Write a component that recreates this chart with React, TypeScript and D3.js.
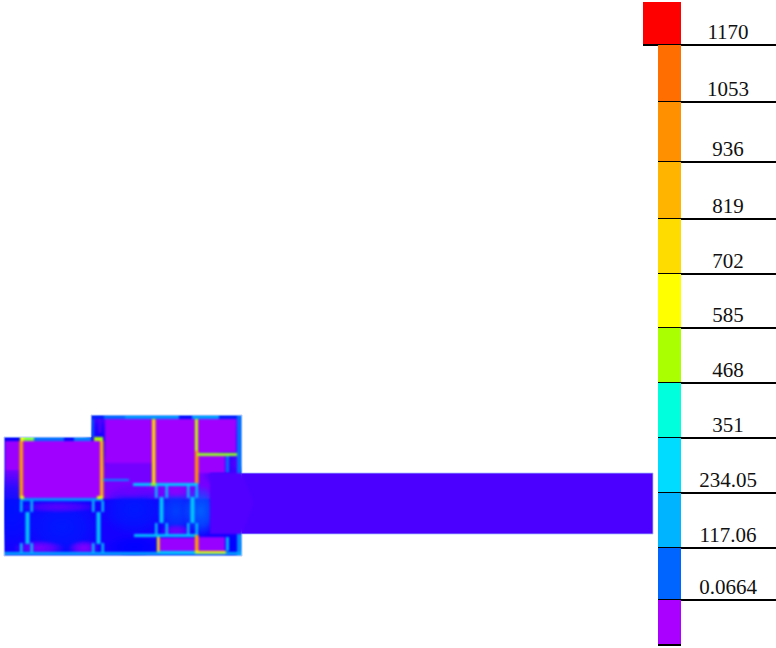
import React from "react";
import * as d3 from "d3";

// Legend
const legendLabels = ["1170", "1053", "936", "819", "702", "585", "468", "351", "234.05", "117.06", "0.0664", ""];
const legendColors = ["#ff0000", "#ff6e00", "#ff9100", "#ffb400", "#ffdc00", "#ffff00", "#aaff00", "#00ffdc", "#00dcff", "#00b4ff", "#0064ff", "#aa00ff"];
const legendEdges = [2, 45, 102, 162, 219, 274, 328, 383, 438, 493, 548, 600, 645];

// Field colour map
const fieldStops = [0, 50, 110, 170, 290, 400, 470, 585, 750, 936];
const fieldColors = ["#a000ff", "#4b00ff", "#0000ff", "#0060ff", "#00c8ff", "#00ffee", "#aaff00", "#ffff00", "#ffc000", "#ff8000"];

type Cell = [number, number, number, number, number];
type Blob = [number, number, number, number, number];

// Model coordinates: x 0..649 along the length, y 0..141 down; [x0, y0, x1, y1, stress]
const slabs: Cell[] = [
  [0, 22, 87, 141, 25],
  [87, 0, 238, 141, 25],
  [0, 84, 238, 141, 95],
];
const tail: Cell[] = [[238, 58, 649, 119, 50]];
// Soft stress concentrations: [cx, cy, rx, ry, stress]
const blobs: Blob[] = [
  [8, 95, 30, 40, 120],
  [58, 112, 40, 30, 125],
  [130, 95, 34, 26, 125],
  [172, 96, 20, 24, 150],
  [197, 96, 18, 26, 170],
  [95, 25, 16, 30, 105],
  [222, 60, 24, 14, 70],
  [225, 30, 14, 30, 85],
  [226, 130, 14, 14, 110],
  [130, 132, 28, 12, 110],
];
const purpleCorners: Blob[] = [
  [35, 133, 26, 8, 20],
  [80, 133, 16, 8, 15],
  [55, 92, 40, 6, 40],
  [128, 76, 26, 8, 30],
  [172, 76, 14, 7, 10],
  [172, 116, 16, 7, 25],
];
const perimeter: Cell[] = [
  [0, 22, 16, 26, 110],
  [16, 22, 60, 26, 190],
  [60, 22, 70, 26, 115],
  [70, 22, 87, 26, 210],
  [87, 0, 100, 4, 130],
  [100, 0, 121, 4, 180],
  [121, 0, 175, 4, 230],
  [175, 0, 188, 4, 120],
  [188, 0, 215, 4, 240],
  [215, 0, 233, 4, 130],
  [233, 0, 238, 58, 190],
  [233, 58, 238, 141, 220],
  [87, 4, 90, 22, 160],
  [0, 137, 238, 140, 250],
  [0, 26, 1, 136, 110],
];
const rooms: Cell[] = [
  [1, 26, 16, 55, 3],
  [19, 26, 96, 83, 0],
  [101, 4, 148, 48, 4],
  [152, 4, 191, 68, 0],
  [194, 4, 232, 37, 0],
  [194, 41, 221, 58, 3],
  [155, 123, 191, 136, 5],
  [194, 122, 221, 136, 5],
];
const walls: Cell[] = [
  [15.5, 26, 19, 83, 850],
  [96, 26, 99.5, 83, 800],
  [16, 22, 20, 26, 560],
  [20, 22, 30, 26, 450],
  [90, 22, 99, 26, 470],
  [16, 83, 99, 86, 230],
  [16, 81, 20, 84, 550],
  [93, 81, 99, 84, 550],
  [148, 4, 151.5, 69, 690],
  [191, 4, 194, 36, 500],
  [191, 36, 194.5, 69, 880],
  [193, 38, 233, 41, 460],
  [99, 64, 125, 66, 220],
  [129, 68, 194, 71, 290],
  [147, 68, 152, 71, 460],
  [21.5, 97, 25.5, 129, 290],
  [92.5, 97, 96.5, 129, 290],
  [155.5, 82, 159.5, 108, 290],
  [186.5, 82, 190.5, 108, 290],
  [130, 119, 194, 122, 280],
  [153, 122, 155.5, 137, 640],
  [155, 136, 191, 138, 310],
  [191, 120, 194.5, 137, 840],
  [191, 136, 222, 138.5, 570],
  [222, 122, 225, 136, 270],
  [222, 41, 225, 58, 190],
  [95, 4, 97, 18, 40],
];
// Column collars: narrow strips on either side of each column
const collars: Cell[] = [
  [16, 86, 18.5, 97, 280], [26.5, 86, 29, 97, 280],
  [88, 86, 90.5, 97, 280], [97.5, 86, 100, 97, 280],
  [16, 128, 18.5, 137, 280], [26.5, 128, 29, 137, 280],
  [88, 128, 90.5, 137, 280], [97.5, 128, 100, 137, 280],
  [151, 71, 153.5, 83, 280], [161.5, 71, 164, 83, 280],
  [183, 71, 185.5, 83, 280], [191.5, 71, 194, 83, 280],
  [151, 108, 153.5, 120, 280], [161.5, 108, 164, 120, 280],
  [183, 108, 185.5, 120, 280], [191.5, 108, 194, 120, 280],
];

const W = 776;
const H = 648;
const xModel = d3.scaleLinear().domain([0, 649]).range([4, 653]);
const yModel = d3.scaleLinear().domain([0, 141]).range([415, 556]);
const field = d3.scaleLinear<string>().domain(fieldStops).range(fieldColors).interpolate(d3.interpolateRgb);

function CellRect({ c }: { c: Cell }) {
  const [x0, y0, x1, y1, v] = c;
  return <rect x={xModel(x0)} y={yModel(y0)} width={xModel(x1) - xModel(x0)} height={yModel(y1) - yModel(y0)} fill={field(v)} />;
}

function gradientId(prefix: string, i: number) {
  return `${prefix}-${i}`;
}

function BlobDefs({ list, prefix }: { list: Blob[]; prefix: string }) {
  return (
    <>
      {list.map((b, i) => (
        <radialGradient key={i} id={gradientId(prefix, i)}>
          <stop offset="0%" stopColor={field(b[4])} stopOpacity={1} />
          <stop offset="55%" stopColor={field(b[4])} stopOpacity={0.65} />
          <stop offset="100%" stopColor={field(b[4])} stopOpacity={0} />
        </radialGradient>
      ))}
    </>
  );
}

function BlobMarks({ list, prefix }: { list: Blob[]; prefix: string }) {
  return (
    <>
      {list.map((b, i) => (
        <ellipse
          key={i}
          cx={xModel(b[0])}
          cy={yModel(b[1])}
          rx={xModel(b[2]) - xModel(0)}
          ry={yModel(b[3]) - yModel(0)}
          fill={`url(#${gradientId(prefix, i)})`}
        />
      ))}
    </>
  );
}

const outline = `M${xModel(0)},${yModel(22)}H${xModel(87)}V${yModel(0)}H${xModel(238)}V${yModel(58)}H${xModel(649)}V${yModel(119)}H${xModel(238)}V${yModel(141)}H${xModel(0)}Z`;
const transition = `M${xModel(206)},${yModel(58)}H${xModel(238)}L${xModel(250)},${yModel(88)}L${xModel(238)},${yModel(119)}H${xModel(206)}Z`;

export default function App() {
  return (
    <svg width={W} height={H} style={{ position: "absolute", left: 0, top: 0, background: "#fff" }}>
      <defs>
        <filter id="soft" x="-5%" y="-5%" width="110%" height="110%" colorInterpolationFilters="sRGB">
          <feGaussianBlur stdDeviation="0.85" />
        </filter>
        <clipPath id="plan">
          <path d={outline} />
        </clipPath>
        <BlobDefs list={blobs} prefix="hot" />
        <BlobDefs list={purpleCorners} prefix="cold" />
      </defs>
      <g clipPath="url(#plan)">
        <g filter="url(#soft)">
          {slabs.map((c, i) => <CellRect key={i} c={c} />)}
          <BlobMarks list={blobs} prefix="hot" />
          <BlobMarks list={purpleCorners} prefix="cold" />
          {perimeter.map((c, i) => <CellRect key={i} c={c} />)}
          {rooms.map((c, i) => <CellRect key={i} c={c} />)}
          {collars.map((c, i) => <CellRect key={i} c={c} />)}
          {walls.map((c, i) => <CellRect key={i} c={c} />)}
        </g>
        {tail.map((c, i) => <CellRect key={i} c={c} />)}
        <path d={transition} fill={field(46)} filter="url(#soft)" />
      </g>
      <path d={outline} fill="none" stroke="#a8c0ff" strokeWidth={0.8} />
      {legendLabels.map((label, i) => {
        const top = legendEdges[i];
        const bottom = legendEdges[i + 1];
        const x0 = i === 0 ? 643 : 658;
        return (
          <g key={i}>
            <rect x={x0} y={top} width={681 - x0} height={bottom - top} fill={legendColors[i]} />
            <line x1={x0} x2={i === legendLabels.length - 1 ? 681 : 776} y1={bottom} y2={bottom} stroke="#000" strokeWidth={2} />
            <text x={728} y={bottom - 6.5} textAnchor="middle" fontFamily="'Liberation Serif', serif" fontSize={21} fill="#111">
              {label}
            </text>
          </g>
        );
      })}
    </svg>
  );
}
